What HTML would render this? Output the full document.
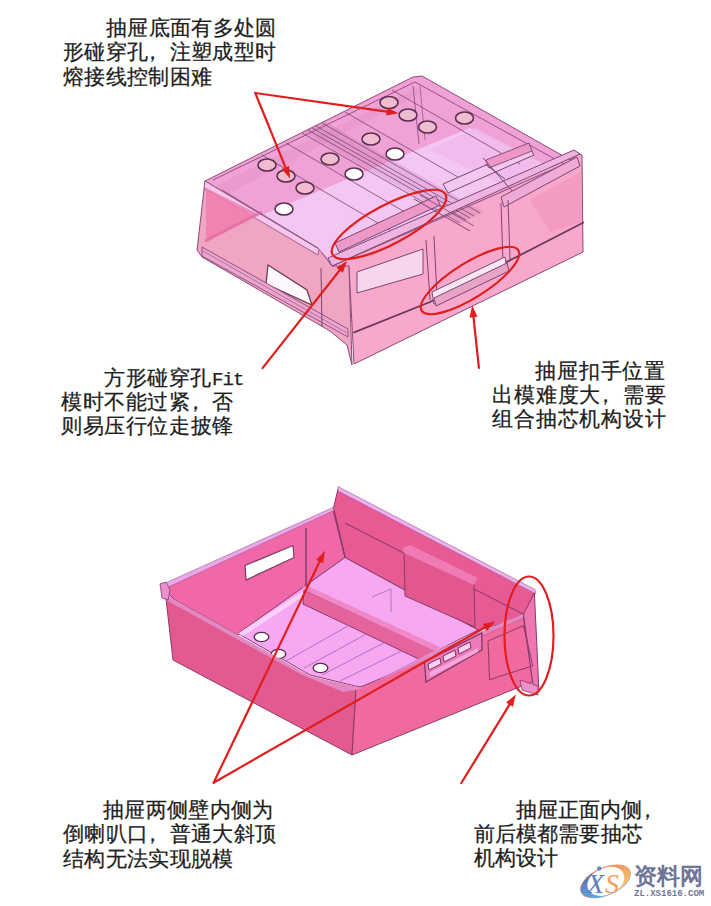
<!DOCTYPE html>
<html><head><meta charset="utf-8">
<style>
html,body{margin:0;padding:0;background:#fff;}
body{width:711px;height:906px;position:relative;overflow:hidden;font-family:"Liberation Sans",sans-serif;}
svg{position:absolute;left:0;top:0;}
.t{position:absolute;font-size:21px;line-height:24px;color:#202020;white-space:nowrap;letter-spacing:0.35px;-webkit-text-stroke:0.25px #202020;}
.m{font-family:"Liberation Mono",monospace;font-size:19px;letter-spacing:-0.9px;}
.c{position:relative;left:-6px;}
.wm{position:absolute;white-space:nowrap;color:#6d7599;}
</style></head><body>
<svg width="711" height="906" viewBox="0 0 711 906">
<!-- ================= TOP DRAWER ================= -->
<g stroke="#8a4a78" stroke-width="1" stroke-linejoin="round">
<!-- side wall -->
<polygon points="205,181 319,249 349,266 352,365 347,345 330,331 202,257 197,250" fill="#f0a6c2"/>
<!-- front panel -->
<polygon points="332,266 574,158 574,151 582,155 583,252 354,364 349,266" fill="#f8a8cc"/>
<!-- top surface -->
<polygon points="205,181 413,77 422,76 572,161 332,266 319,249" fill="#f0a2d6"/>
</g>
<!-- light region of top -->
<polygon points="262,215 426,146 470,128 552,168 332,262 319,249" fill="#f4c6f2"/>
<polygon points="430,150 475,128 540,162 500,183" fill="#f0b8ec" opacity="0.8"/>
<!-- rim bands -->
<polygon points="215,186 416,88 424,92 228,194" fill="#e898cc" opacity="0.8"/>
<polygon points="205,181 319,249 318,255 204,188" fill="#f6c6ec" stroke="#8a4a78" stroke-width="0.8"/>
<polyline points="213,180 415,82 564,164" fill="none" stroke="#8a4a78" stroke-width="0.9"/>
<line x1="413" y1="86" x2="419" y2="144" stroke="#9a5a88" stroke-width="1"/>
<line x1="420" y1="86" x2="425" y2="140" stroke="#9a5a88" stroke-width="0.8"/>
<!-- side wall dark wedge -->
<polygon points="206,188 258,214 206,242" fill="#f07cae" opacity="0.85"/>
<line x1="205" y1="241" x2="262" y2="212" stroke="#e46aa4" stroke-width="3" opacity="0.75"/>
<!-- side wall hole and rail -->
<polygon points="268,265 307,290 312,305 266,284" fill="#fdf8fb" stroke="#6a3a5a" stroke-width="1.3"/>
<polygon points="202,247 348,329 348,337 202,256" fill="#eaa6cc" stroke="#8a4a78" stroke-width="0.9"/>
<line x1="203" y1="251" x2="347" y2="333" stroke="#9a5a88" stroke-width="0.7"/>
<line x1="321" y1="268" x2="322" y2="327" stroke="#7a4870" stroke-width="1"/>
<!-- ribs -->
<polygon points="302,131 324,121 484,212 462,223" fill="#b868a0" opacity="0.22"/>
<g stroke="#7a4870" stroke-width="1" opacity="0.8">
<line x1="222" y1="190" x2="318" y2="248"/>
<line x1="262" y1="155" x2="400" y2="236"/>
<line x1="286" y1="143" x2="410" y2="215"/>
<line x1="302" y1="133" x2="460" y2="223"/>
<line x1="308" y1="130" x2="466" y2="220"/>
<line x1="312" y1="128" x2="470" y2="218"/>
<line x1="316" y1="126" x2="474" y2="216"/>
<line x1="322" y1="123" x2="480" y2="213"/>
<line x1="345" y1="112" x2="470" y2="184"/>
<line x1="392" y1="90" x2="520" y2="164"/>
</g>
<!-- front lip -->
<polygon points="328,258 574,150 580,154 332,266" fill="#f0b4e0" stroke="#7a4870" stroke-width="1"/>
<!-- rail bars -->
<polygon points="335,243 436,196 440,205 339,252" fill="#ee98c8" stroke="#7a4870" stroke-width="1"/>
<polygon points="443,184 529,146 534,155 448,193" fill="#f4c8ee" stroke="#7a4870" stroke-width="1"/>
<polygon points="486,160 529,143 532,151 489,168" fill="#ee96c6" stroke="#7a4870" stroke-width="0.9"/>
<line x1="483" y1="158" x2="514" y2="193" stroke="#7a4870" stroke-width="1"/>
<polygon points="501,197 577,157 580,166 504,207" fill="#f0aad6" stroke="#7a4870" stroke-width="1"/>
<line x1="414" y1="199" x2="470" y2="231" stroke="#7a4870" stroke-width="1"/>
<line x1="420" y1="195" x2="474" y2="226" stroke="#7a4870" stroke-width="0.8"/>
<line x1="485" y1="164" x2="505" y2="179" stroke="#7a4870" stroke-width="1"/>
<!-- front face details -->
<polygon points="357,272 423,249 423,274 357,293" fill="#f6d6ee" stroke="#7a4870" stroke-width="1"/>
<polygon points="530,200 580,172 582,222 550,232" fill="#ee90bc" opacity="0.55"/>
<polyline points="353.5,332.7 430,302 507.5,261.6 584,222.2" fill="none" stroke="#6a3a5a" stroke-width="1.8"/>
<line x1="426" y1="240" x2="430" y2="300" stroke="#7a4870" stroke-width="1"/>
<line x1="434" y1="236" x2="437" y2="296" stroke="#7a4870" stroke-width="1"/>
<line x1="501" y1="203" x2="503" y2="262" stroke="#7a4870" stroke-width="1"/>
<line x1="508" y1="200" x2="510" y2="259" stroke="#7a4870" stroke-width="1"/>
<polygon points="432,292 505,257 507,270 434,304" fill="#f8e6f4" stroke="#7a4870" stroke-width="1"/>
<polygon points="434,298 507,263 509,271 436,306" fill="#e8a4c8" stroke="#7a4870" stroke-width="1"/>
<!-- holes -->
<g stroke="#5a3050" stroke-width="1.6" fill="#f2bcd0">
<ellipse cx="267" cy="165" rx="9" ry="6"/>
<ellipse cx="286" cy="176" rx="9" ry="6"/>
<ellipse cx="305" cy="188" rx="9" ry="6"/>
<ellipse cx="284" cy="209" rx="9" ry="6" fill="#fff"/>
<ellipse cx="330" cy="159" rx="9" ry="6"/>
<ellipse cx="354" cy="174" rx="9" ry="6" fill="#fff"/>
<ellipse cx="371" cy="139" rx="9" ry="6"/>
<ellipse cx="395" cy="154" rx="9" ry="6" fill="#fff"/>
<ellipse cx="389" cy="102.5" rx="9" ry="6"/>
<ellipse cx="408" cy="115" rx="9" ry="6"/>
<ellipse cx="427.5" cy="127" rx="9" ry="6"/>
<ellipse cx="464.5" cy="118" rx="9" ry="6"/>
</g>
<!-- ================= BOTTOM DRAWER ================= -->
<g stroke="#8a3a6a" stroke-width="1" stroke-linejoin="round">
<polygon points="162,587 333,510 338,508 345,557.5 238,635 175,600" fill="#f068a8"/>
<polygon points="338,489 535,592 523.5,618 478,630 345,557.5 333,510" fill="#e85a94"/>
<polygon points="238,633.5 345,557.5 478,630 363.8,687.4 355,686 310,675" fill="#f6a8f2"/>
</g>
<line x1="345" y1="523" x2="523" y2="614" stroke="#9a3a6a" stroke-width="1.2"/>
<line x1="334" y1="510" x2="345" y2="557" stroke="#8a3a6a" stroke-width="1.2"/>
<polygon points="245,565.5 293,545.5 294,557.5 246,580" fill="#fff" stroke="#7a3a60" stroke-width="1.2"/>
<line x1="306" y1="528" x2="306" y2="587" stroke="#7a3a60" stroke-width="1.4"/>
<!-- rims -->
<polygon points="161,585 333,507.5 334,510.5 164,589" fill="#eaa8e8" stroke="#9a5a8a" stroke-width="0.6"/>
<polygon points="338,486.5 535,589.5 536,594 338,491" fill="#eeb0ee" stroke="#9a5a8a" stroke-width="0.6"/>
<!-- floor light stripe -->
<polygon points="238,633.5 305,590 310,592 243,636" fill="#fad0fa"/>
<!-- beam -->
<polygon points="304,590 435,650 425,662 303,604" fill="#e6649e" stroke="#8a3a6a" stroke-width="1"/>
<polygon points="303,586 310,587 440,647 435,651 304,590" fill="#f088c8"/>
<!-- block on back wall -->
<polygon points="404,552 474,584 475,627 405,596" fill="#e2588e" stroke="#8a3a6a" stroke-width="1"/>
<polygon points="402,548 410,545 478,578 474,585 404,553" fill="#f07ab4"/>
<!-- floor holes -->
<g stroke="#5a2a50" stroke-width="1.4" fill="#fff">
<ellipse cx="261.5" cy="637" rx="7.3" ry="4.6"/>
<ellipse cx="278.5" cy="654" rx="7.3" ry="4.6"/>
<ellipse cx="320.5" cy="668" rx="7.3" ry="4.6"/>
</g>
<g stroke="#b870c0" stroke-width="1">
<line x1="286" y1="661" x2="348.5" y2="625.7"/>
<line x1="304" y1="668" x2="365.8" y2="634.4"/>
<line x1="322" y1="675" x2="384.3" y2="642.6"/>
<line x1="340" y1="681" x2="401.6" y2="650.9"/>
</g>
<!-- axis marker -->
<g stroke="#9a70b0" stroke-width="0.8" fill="none"><polyline points="372,597 391,589 391,612"/></g>
<g stroke="#8a3a6a" stroke-width="1" stroke-linejoin="round">
<polygon points="166,599 300,673 343,691 356,689 352,755 173,660" fill="#e25a90"/>
<polygon points="356,689 523.5,617.8 532.8,683 532.5,681.7 352,755" fill="#f06aa0"/>
</g>
<!-- near rims -->
<polygon points="166,593 175,600 238,635 310,676 355,686.5 363.8,687.4 356,690 343,692 300,674 166,600" fill="#e488c4"/>
<polygon points="363.8,687.4 431.3,652 523.5,614 523.5,618 356,690" fill="#e488c4"/>
<!-- right end strip -->
<polygon points="523.5,614 534.4,593 539,692 532.8,683" fill="#f076b0" stroke="#8a3a6a" stroke-width="1"/>
<polygon points="488,641 523.5,625.6 532.8,665.8 489.5,679.7" fill="none" stroke="#8a3a6a" stroke-width="1"/>
<polygon points="520,680 538,686 538,695 522,690" fill="#f090c8" stroke="#8a3a6a" stroke-width="0.8"/>
<!-- slot frame -->
<polygon points="424.5,662 481.8,633 482,650 426,682" fill="#ee7ab8" stroke="#7a3060" stroke-width="1.2"/>
<polygon points="430,672 478,648 478,652 430,677" fill="#f4a8e0"/>
<g stroke="#7a3060" stroke-width="1" fill="#f8d0f0">
<polygon points="428,664 440,658 441,664 429,670"/>
<polygon points="443,656 455,650 456,656 444,662"/>
<polygon points="458,648 470,642 471,648 459,654"/>
</g>
<!-- rim tab -->
<polygon points="160,584 166,582 170,590 168,600 162,598" fill="#e890d0" stroke="#8a3a6a" stroke-width="0.8"/>
<!-- red annotations -->
<g stroke="#e01e1e" stroke-width="2.2" fill="none" stroke-linecap="round">
<ellipse cx="389" cy="224.5" rx="64" ry="19.5" transform="rotate(-28 389 224.5)"/>
<ellipse cx="470" cy="280.5" rx="57" ry="17.5" transform="rotate(-32 470 280.5)"/>
<ellipse cx="529" cy="636" rx="24.5" ry="59.5"/>
<line x1="255.3" y1="93.0" x2="285.5" y2="167.4"/>
<line x1="255.3" y1="93.0" x2="386.7" y2="111.6"/>
<line x1="262.5" y1="368.1" x2="339.7" y2="270.2"/>
<line x1="478.9" y1="367.9" x2="473.5" y2="317.2"/>
<line x1="213.6" y1="782.7" x2="319.7" y2="561.6"/>
<line x1="213.6" y1="782.7" x2="484.8" y2="627.5"/>
<line x1="461.3" y1="783.0" x2="509.5" y2="704.7"/>
</g>
<g fill="#e01e1e">
<polygon points="290,178.5 281.8,168.9 289.2,165.9"/>
<polygon points="398.6,113.3 386.2,115.6 387.3,107.7"/>
<polygon points="347.1,260.8 342.8,272.7 336.5,267.7"/>
<polygon points="472.2,305.3 477.5,316.8 469.5,317.7"/>
<polygon points="324.9,550.8 323.3,563.3 316.1,559.9"/>
<polygon points="495.2,621.5 486.8,630.9 482.8,624.0"/>
<polygon points="515.8,694.5 512.9,706.8 506.1,702.6"/>
</g>
<!-- watermark logo -->
<defs>
<linearGradient id="ringg" x1="0" y1="0" x2="1" y2="1">
<stop offset="0" stop-color="#f07050"/><stop offset="0.5" stop-color="#f0a070"/><stop offset="1" stop-color="#60b8f0"/>
</linearGradient>
<linearGradient id="blueg" x1="0" y1="0" x2="0" y2="1">
<stop offset="0" stop-color="#5a70b8"/><stop offset="1" stop-color="#58b0ec"/>
</linearGradient>
<linearGradient id="orag" x1="0" y1="0" x2="0" y2="1">
<stop offset="0" stop-color="#f09060"/><stop offset="1" stop-color="#f8c870"/>
</linearGradient>
</defs>
<g transform="translate(605.6 881.4) rotate(-24)">
<ellipse cx="0" cy="0" rx="26.5" ry="13.5" fill="none" stroke="url(#ringg)" stroke-width="1.2"/>
<path d="M 0,-13.5 A 26.5 13.5 0 0 0 0,13.5 A 19 13.5 0 0 1 0,-13.5 Z" fill="url(#blueg)"/>
<path d="M 0,-13.5 A 26.5 13.5 0 0 1 0,13.5 A 19.5 13.5 0 0 0 0,-13.5 Z" fill="url(#orag)"/>
</g>
<circle cx="599.2" cy="868.5" r="2.2" fill="#6a88c8"/>
<text x="587" y="893" font-family="Liberation Serif" font-style="italic" font-size="28" fill="#5a80c0">X</text>
<text x="605" y="893" font-family="Liberation Serif" font-style="italic" font-size="28" fill="#f0a060">S</text>
</svg>
<div class="t" style="left:106px;top:16px">抽屉底面有多处圆</div>
<div class="t" style="left:63px;top:40px">形碰穿孔<span class="c">，</span>注塑成型时</div>
<div class="t" style="left:63px;top:65px">熔接线控制困难</div>
<div class="t" style="left:104px;top:366px;letter-spacing:0.6px">方形碰穿孔<span class="m">Fit</span></div>
<div class="t" style="left:61px;top:390px;letter-spacing:0.6px">模时不能过紧<span class="c">，</span>否</div>
<div class="t" style="left:61px;top:414px;letter-spacing:0.6px">则易压行位走披锋</div>
<div class="t" style="left:535px;top:359px;letter-spacing:0.85px">抽屉扣手位置</div>
<div class="t" style="left:492px;top:383px;letter-spacing:0.85px">出模难度大<span class="c">，</span>需要</div>
<div class="t" style="left:492px;top:407px;letter-spacing:0.85px">组合抽芯机构设计</div>
<div class="t" style="left:103px;top:798px">抽屉两侧壁内侧为</div>
<div class="t" style="left:63px;top:822px">倒喇叭口<span class="c">，</span>普通大斜顶</div>
<div class="t" style="left:63px;top:847px">结构无法实现脱模</div>
<div class="t" style="left:516px;top:798px;letter-spacing:0.1px">抽屉正面内侧<span class="c">，</span></div>
<div class="t" style="left:474px;top:822px;letter-spacing:0.1px">前后模都需要抽芯</div>
<div class="t" style="left:474px;top:846px;letter-spacing:0.1px">机构设计</div>
<div class="wm" style="left:634px;top:862px;font-size:23px;line-height:28px;font-weight:bold;letter-spacing:0px">资料网</div>
<div class="wm" style="left:634px;top:889px;font-size:9px;line-height:10px;font-family:'Liberation Mono',monospace;font-weight:bold">ZL.XS1616.COM</div>
</body></html>
